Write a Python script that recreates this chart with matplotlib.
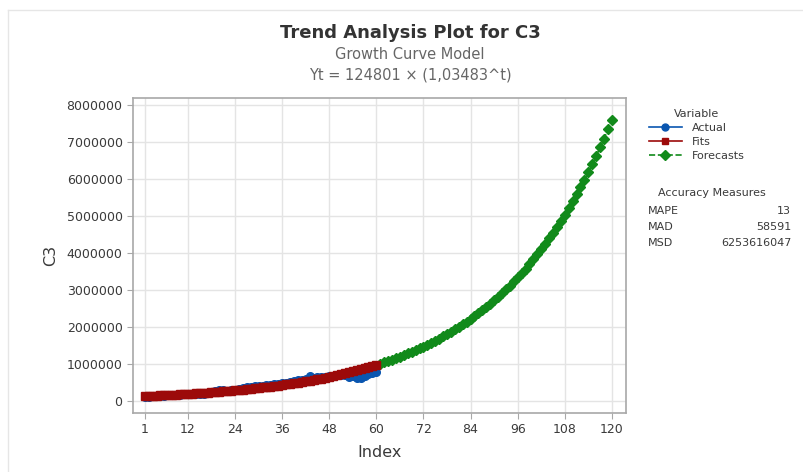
import matplotlib
matplotlib.use("Agg")
import matplotlib.pyplot as plt
from matplotlib.lines import Line2D
from matplotlib.ticker import FuncFormatter

plt.rcParams["font.family"] = ["DejaVu Sans"]

# -------------------------------
# DATA
# -------------------------------
index_actual = list(range(1, 61))
index_forecast = list(range(61, 121))

actual = [105000, 110000, 118000, 125000, 132000, 140000, 150000, 160000, 165000, 170000,
          175000, 180000, 185000, 178000, 182000, 190000, 205000, 240000, 260000, 285000,
          280000, 275000, 290000, 300000, 320000, 340000, 360000, 375000, 390000, 400000,
          410000, 420000, 430000, 445000, 455000, 470000, 490000, 510000, 540000, 560000,
          575000, 600000, 660000, 630000, 640000, 650000, 655000, 660000, 670000, 690000,
          700000, 690000, 640000, 660000, 620000, 610000, 680000, 720000, 760000, 790000]

fits = [129148, 133646, 138301, 143118, 148103, 153261, 158599, 164123, 169839, 175755,
        181877, 188212, 194767, 201551, 208571, 215836, 223354, 231133, 239183, 247514,
        256135, 265056, 274288, 283841, 293727, 303958, 314545, 325501, 336838, 348570,
        360711, 373275, 386276, 399730, 413653, 428061, 442970, 458399, 474365, 490887,
        507985, 525678, 543987, 562934, 582541, 602831, 623828, 645556, 668041, 691309,
        715387, 740304, 766089, 792772, 820384, 848958, 878527, 909126, 940791, 973559]

forecasts = [1007468, 1042558, 1078870, 1116447, 1155333, 1195573, 1237215, 1280307, 1324900, 1371046,
             1418800, 1468217, 1519355, 1572274, 1627036, 1683706, 1742350, 1803036, 1865836, 1930823,
             1998074, 2067667, 2139684, 2214209, 2291330, 2371137, 2453724, 2539187, 2627627, 2719147,
             2813855, 2911862, 3013282, 3118235, 3226843, 3339234, 3455540, 3575896, 3700445, 3829332,
             3962708, 4100729, 4243557, 4391360, 4544311, 4702589, 4866380, 5035876, 5211276, 5392785,
             5580616, 5774989, 5976132, 6184281, 6399679, 6622580, 6853244, 7091943, 7338955, 7594571]

x_ticks = [1, 12, 24, 36, 48, 60, 72, 84, 96, 108, 120]
y_ticks = [0, 1000000, 2000000, 3000000, 4000000, 5000000, 6000000, 7000000, 8000000]

measure_names = ["MAPE", "MAD", "MSD"]
measure_values = ["13", "58591", "6253616047"]

BLUE = "#0a56b0"
RED = "#9c0a0a"
GREEN = "#118a1a"
TXT = "#3a3a3a"

# -------------------------------
# PLOT
# -------------------------------
fig = plt.figure(figsize=(8.04, 4.72), dpi=100)
ax = fig.add_axes([0.1654, 0.125, 0.6132, 0.6674])

l_act, = ax.plot(index_actual, actual, color=BLUE, marker="o", markersize=5.5, lw=1.5, zorder=3)
l_fit, = ax.plot(index_actual, fits, color=RED, marker="s", markersize=6, lw=2, zorder=4)
l_fc, = ax.plot(index_forecast, forecasts, color=GREEN, marker="D", markersize=5,
                lw=1.2, linestyle="--", zorder=3)

ax.set_xlim(-2, 123.6)
ax.set_ylim(-330000, 8190000)
ax.set_xticks(x_ticks)
ax.set_yticks(y_ticks)
ax.yaxis.set_major_formatter(FuncFormatter(lambda v, p: "%d" % v))
ax.grid(True, color="#e4e4e4", lw=1)
ax.set_axisbelow(True)
for s in ax.spines.values():
    s.set_color("#a8a8a8")
    s.set_linewidth(1.2)
ax.tick_params(colors="#a8a8a8", labelcolor=TXT, labelsize=9, length=4)
ax.set_xlabel("Index", fontsize=11.5, color=TXT, labelpad=6)
ax.set_ylabel("C3", fontsize=11.5, color=TXT, labelpad=6)

# titles
fig.text(0.51, 0.930, "Trend Analysis Plot for C3", ha="center", va="center",
         fontsize=13, fontweight="bold", color="#333333")
fig.text(0.51, 0.884, "Growth Curve Model", ha="center", va="center", fontsize=10.5, color="#666666")
fig.text(0.51, 0.841, "Yt = 124801 \u00d7 (1,03483^t)", ha="center", va="center",
         fontsize=10.5, color="#666666")

# legend
h_act = Line2D([], [], color=BLUE, marker="o", markersize=5, lw=1.2)
h_fit = Line2D([], [], color=RED, marker="s", markersize=5, lw=1.2)
h_fc = Line2D([], [], color=GREEN, marker="D", markersize=5, lw=1.2, linestyle="--")
leg = fig.legend([h_act, h_fit, h_fc], ["Actual", "Fits", "Forecasts"], title="Variable",
                 loc="upper left", bbox_to_anchor=(0.797, 0.785), frameon=False,
                 fontsize=8, title_fontsize=8, handlelength=3.0, handletextpad=0.9,
                 labelspacing=0.35, borderpad=0.2)
for t in leg.get_texts():
    t.set_color(TXT)
leg.get_title().set_color(TXT)

# accuracy measures
fig.text(0.886, 0.591, "Accuracy Measures", ha="center", va="center", fontsize=8, color=TXT)
for i, (n, v) in enumerate(zip(measure_names, measure_values)):
    y = 0.553 - i * 0.034
    fig.text(0.806, y, n, ha="left", va="center", fontsize=8, color=TXT)
    fig.text(0.984, y, v, ha="right", va="center", fontsize=8, color=TXT)

# faint frame of the screenshot
fig.add_artist(Line2D([8 / 804, 8 / 804], [0, 1 - 10 / 472], transform=fig.transFigure,
                      color="#e6e6e6", lw=1))
fig.add_artist(Line2D([8 / 804, 1], [1 - 10 / 472, 1 - 10 / 472], transform=fig.transFigure,
                      color="#e6e6e6", lw=1))

fig.savefig("out.png", dpi=100)
